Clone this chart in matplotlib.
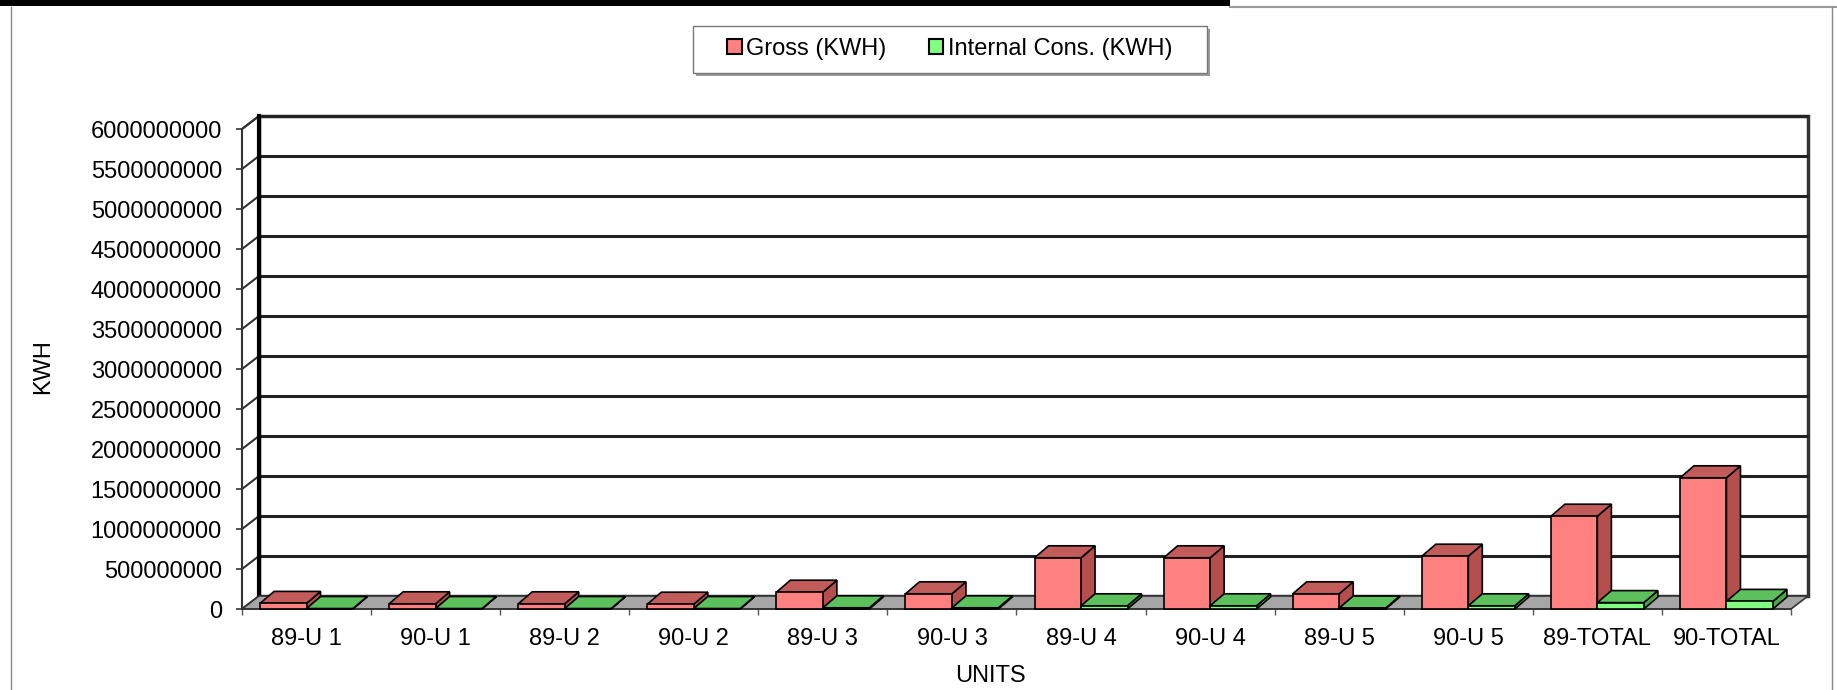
import matplotlib
matplotlib.use('Agg')
import matplotlib.pyplot as plt
from matplotlib.patches import Polygon, Rectangle, Patch
from matplotlib.lines import Line2D
import numpy as np

categories = ["89-U 1", "90-U 1", "89-U 2", "90-U 2", "89-U 3", "90-U 3",
              "89-U 4", "90-U 4", "89-U 5", "90-U 5", "89-TOTAL", "90-TOTAL"]
gross = [70e6, 65e6, 65e6, 60e6, 210e6, 190e6, 640e6, 640e6, 190e6, 660e6, 1160e6, 1640e6]
internal = [6e6, 6e6, 6e6, 6e6, 15e6, 15e6, 40e6, 40e6, 12e6, 40e6, 80e6, 95e6]
series_names = ["Gross (KWH)", "Internal Cons. (KWH)"]
yticks = np.arange(0, 6.0e9 + 1, 5e8)

plt.rcParams['font.family'] = ['Liberation Sans', 'DejaVu Sans']
FS = 17

W, H = 1837, 690
fig = plt.figure(figsize=(W / 100, H / 100), dpi=100)


def fx(px):
    return px / W


def fy(py):
    return 1 - py / H


# page decorations
fig.add_artist(Rectangle((0, fy(6)), fx(1230), 6 / H, transform=fig.transFigure,
                         fc='black', ec='none'))
fig.add_artist(Line2D([fx(1230), 1], [fy(7), fy(7)], transform=fig.transFigure,
                      color='#999999', lw=1.5))
fig.add_artist(Line2D([fx(11), fx(11)], [0, fy(7)], transform=fig.transFigure,
                      color='#888888', lw=1))
fig.add_artist(Line2D([fx(1832), fx(1832)], [0, fy(7)], transform=fig.transFigure,
                      color='#888888', lw=1))

# legend box (shadow + frame)
lx0, lx1, ly0, ly1 = 693, 1207, 26, 73
fig.add_artist(Rectangle((fx(lx0 + 3), fy(ly1 + 3)), (lx1 - lx0) / W, (ly1 - ly0) / H,
                         transform=fig.transFigure, fc='#9a9a9a', ec='none', zorder=0.5))
fig.add_artist(Rectangle((fx(lx0), fy(ly1)), (lx1 - lx0) / W, (ly1 - ly0) / H,
                         transform=fig.transFigure, fc='white', ec='#777777', lw=1, zorder=0.6))

x0, x1 = 242, 1791
y0, y1 = 609, 129
ax = fig.add_axes([fx(x0), fy(y0), (x1 - x0) / W, (y0 - y1) / H])
n = len(categories)
ymax = yticks[-1]
ax.set_xlim(0, n)
ax.set_ylim(0, ymax)
ax.patch.set_visible(False)

px_x = n / (x1 - x0)
px_y = ymax / (y0 - y1)
wdx, wdy = 17 * px_x, 13 * px_y
bdx, bdy = 14 * px_x, 12 * px_y

wall_c = '#333333'
# back wall
ax.add_patch(Polygon([(wdx, wdy), (n + wdx, wdy), (n + wdx, ymax + wdy), (wdx, ymax + wdy)],
                     closed=True, fc='white', ec=wall_c, lw=2.5, clip_on=False, zorder=1))
# side wall
ax.add_patch(Polygon([(0, 0), (wdx, wdy), (wdx, ymax + wdy), (0, ymax)],
                     closed=True, fc='white', ec=wall_c, lw=1.5, clip_on=False, zorder=1))
for v in yticks[1:]:
    ax.plot([wdx, n + wdx], [v + wdy, v + wdy], color='#222222', lw=2.2,
            clip_on=False, zorder=1.5, solid_capstyle='butt')
    ax.plot([0, wdx], [v, v + wdy], color=wall_c, lw=1.5, clip_on=False, zorder=1.5)
ax.plot([wdx, wdx], [wdy, ymax + wdy], color='black', lw=3, clip_on=False, zorder=1.6)
# floor
ax.add_patch(Polygon([(0, 0), (n, 0), (n + wdx, wdy), (wdx, wdy)], closed=True,
                     fc='#A6A6A6', ec=wall_c, lw=1.2, clip_on=False, zorder=2))

styles = [
    dict(front='#FF8080', top='#C25C5A', side='#B54F4D'),
    dict(front='#80FF80', top='#5CC05C', side='#46A846'),
]
bw = 0.36
gap = 0.14
z = 3.0
for i in range(n):
    for s, vals in enumerate([gross, internal]):
        h = vals[i]
        l = i + gap + s * bw
        st = styles[s]
        ax.add_patch(Polygon([(l + bw, 0), (l + bw + bdx, bdy), (l + bw + bdx, h + bdy), (l + bw, h)],
                             closed=True, fc=st['side'], ec='black', lw=1.2,
                             clip_on=False, zorder=z))
        ax.add_patch(Polygon([(l, h), (l + bw, h), (l + bw + bdx, h + bdy), (l + bdx, h + bdy)],
                             closed=True, fc=st['top'], ec='black', lw=1.2,
                             clip_on=False, zorder=z + 0.001))
        ax.bar(l, h, bw, align='edge', color=st['front'], edgecolor='black', lw=1.2,
               clip_on=False, zorder=z + 0.002)
        z += 0.01

for sp in ['top', 'right']:
    ax.spines[sp].set_visible(False)
ax.spines['left'].set_linewidth(1.2)
ax.spines['left'].set_color(wall_c)
ax.spines['bottom'].set_linewidth(1.2)
ax.spines['bottom'].set_color(wall_c)
ax.spines['left'].set_zorder(2.5)
ax.spines['bottom'].set_zorder(2.5)

ax.set_yticks(yticks)
ax.set_yticklabels([f"{int(v)}" for v in yticks], fontsize=FS)
ax.tick_params(axis='y', length=4.5, width=1.2, color=wall_c, pad=10)
ax.set_xticks(np.arange(0, n + 1))
ax.set_xticklabels([])
ax.set_xticks(np.arange(n) + 0.5, minor=True)
ax.set_xticklabels(categories, minor=True, fontsize=FS)
ax.tick_params(axis='x', which='major', length=4.5, width=1, color='#555555')
ax.tick_params(axis='x', which='minor', length=0, pad=14)

fig.text(fx(990), fy(676), "UNITS", fontsize=FS, ha='center', va='center')
fig.text(fx(43), fy(367), "KWH", fontsize=FS, ha='center', va='center', rotation=90)

handles = [Patch(fc=styles[0]['front'], ec='black', lw=1.5),
           Patch(fc=styles[1]['front'], ec='black', lw=1.5)]
leg = fig.legend(handles, series_names, loc='center', bbox_to_anchor=(fx(950), fy(49)),
                 ncol=2, fontsize=FS, frameon=False,
                 handlelength=0.6, handleheight=0.6, handletextpad=0.2, columnspacing=1.8,
                 borderpad=0, borderaxespad=0)
leg.set_zorder(1)

fig.savefig('out.png', dpi=100, facecolor='white')
